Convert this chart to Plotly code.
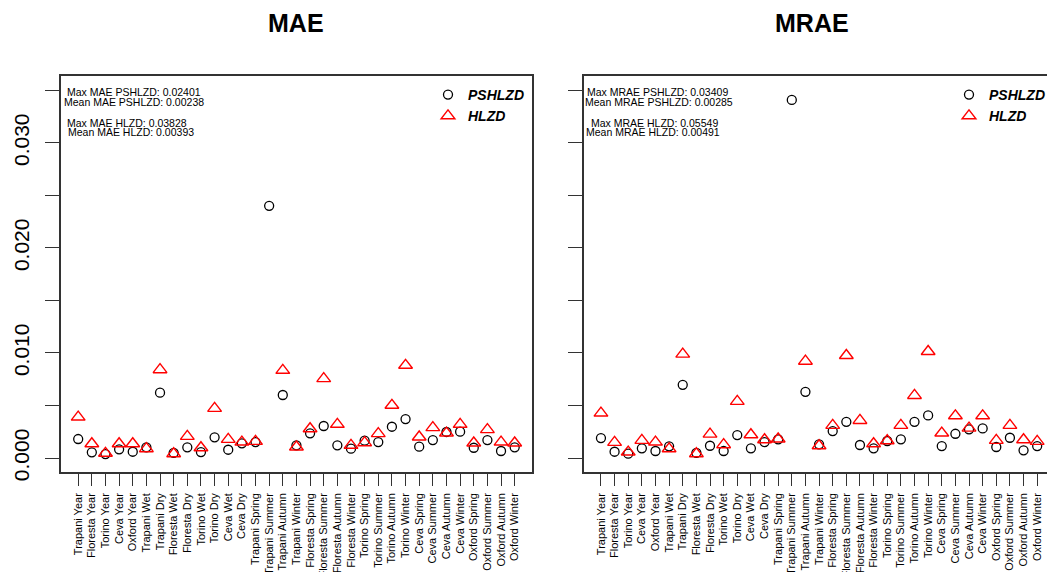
import plotly.graph_objects as go

categories = [
    "Trapani Year", "Floresta Year", "Torino Year", "Ceva Year", "Oxford Year",
    "Trapani Wet", "Trapani Dry", "Floresta Wet", "Floresta Dry", "Torino Wet",
    "Torino Dry", "Ceva Wet", "Ceva Dry", "Trapani Spring", "Trapani Summer",
    "Trapani Autumn", "Trapani Winter", "Floresta Spring", "Floresta Summer",
    "Floresta Autumn", "Floresta Winter", "Torino Spring", "Torino Summer",
    "Torino Autumn", "Torino Winter", "Ceva Spring", "Ceva Summer", "Ceva Autumn",
    "Ceva Winter", "Oxford Spring", "Oxford Summer", "Oxford Autumn", "Oxford Winter",
]

mae_pshlzd = [0.00181, 0.00054, 0.00038, 0.00083, 0.00060, 0.00102, 0.00622, 0.00050,
              0.00102, 0.00057, 0.00197, 0.00079, 0.00140, 0.00152, 0.02401, 0.00600,
              0.00121, 0.00235, 0.00305, 0.00121, 0.00089, 0.00165, 0.00152, 0.00298,
              0.00371, 0.00108, 0.00171, 0.00248, 0.00251, 0.00098, 0.00171, 0.00067,
              0.00102]
mae_hlzd = [0.00390, 0.00136, 0.00045, 0.00136, 0.00136, 0.00089, 0.00841, 0.00041,
            0.00206, 0.00098, 0.00473, 0.00178, 0.00152, 0.00159, 0.03828, 0.00835,
            0.00105, 0.00279, 0.00756, 0.00321, 0.00121, 0.00146, 0.00232, 0.00502,
            0.00883, 0.00200, 0.00289, 0.00238, 0.00321, 0.00143, 0.00270, 0.00152,
            0.00143]

mrae_pshlzd = [0.00190, 0.00060, 0.00041, 0.00092, 0.00067, 0.00111, 0.00697, 0.00050,
               0.00117, 0.00067, 0.00219, 0.00092, 0.00152, 0.00178, 0.03409, 0.00630,
               0.00130, 0.00257, 0.00345, 0.00124, 0.00092, 0.00162, 0.00178, 0.00345,
               0.00406, 0.00114, 0.00231, 0.00273, 0.00282, 0.00105, 0.00193, 0.00073,
               0.00114]
mrae_hlzd = [0.00428, 0.00149, 0.00057, 0.00168, 0.00152, 0.00088, 0.00989, 0.00041,
             0.00228, 0.00127, 0.00539, 0.00222, 0.00174, 0.00181, 0.05549, 0.00922,
             0.00117, 0.00311, 0.00976, 0.00358, 0.00136, 0.00165, 0.00311, 0.00596,
             0.01014, 0.00238, 0.00402, 0.00285, 0.00402, 0.00168, 0.00311, 0.00174,
             0.00159]

mae_stats = ["Max MAE PSHLZD: 0.02401", "Mean MAE PSHLZD: 0.00238",
             "Max MAE HLZD: 0.03828", "Mean MAE HLZD: 0.00393"]
mrae_stats = ["Max MRAE PSHLZD: 0.03409", "Mean MRAE PSHLZD: 0.00285",
              "Max MRAE HLZD: 0.05549", "Mean MRAE HLZD: 0.00491"]

W, H = 1047, 572
ML, MR, MT, MB = 61, 0, 76, 100
PW, PH = W - ML - MR, H - MT - MB


def px(xp):
    return (xp - ML) / PW


def py(yp):
    return (MT + PH - yp) / PH


xs = list(range(1, len(categories) + 1))
FONT = "Liberation Sans, Arial, sans-serif"
AX = "#333333"

fig = go.Figure()
circle = dict(symbol="circle-open", size=9, color="black", line=dict(width=1.3, color="black"))
tri = dict(symbol="triangle-up-open", size=12, color="#ff0000", line=dict(width=1.4, color="#ff0000"))

fig.add_trace(go.Scatter(x=xs, y=mae_pshlzd, mode="markers", marker=circle, name="PSHLZD",
                         xaxis="x", yaxis="y", legend="legend"))
fig.add_trace(go.Scatter(x=xs, y=mae_hlzd, mode="markers", marker=tri, name="HLZD",
                         xaxis="x", yaxis="y", legend="legend"))
fig.add_trace(go.Scatter(x=xs, y=mrae_pshlzd, mode="markers", marker=circle, name="PSHLZD",
                         xaxis="x2", yaxis="y2", legend="legend2"))
fig.add_trace(go.Scatter(x=xs, y=mrae_hlzd, mode="markers", marker=tri, name="HLZD",
                         xaxis="x2", yaxis="y2", legend="legend2"))

yrange = [-0.00133, 0.03637]
xaxis_common = dict(
    tickmode="array", tickvals=xs, ticktext=categories, tickangle=-90,
    tickfont=dict(family=FONT, size=11, color="black"),
    ticks="outside", ticklen=12, tickwidth=1.3, tickcolor=AX,
    showgrid=False, zeroline=False, showline=True, linecolor=AX, linewidth=1.6,
    mirror=True, ticklabelstandoff=3,
)
yaxis_common = dict(
    range=yrange, dtick=0.01, tick0=0, ticks="outside", ticklen=14, tickwidth=1.3,
    tickcolor=AX, showgrid=False, zeroline=False, showline=True, linecolor=AX,
    linewidth=1.6,
    minor=dict(dtick=0.005, tick0=0, ticks="outside", ticklen=14, tickwidth=1.3,
               tickcolor=AX, showgrid=False),
)

fig.update_layout(
    width=W, height=H,
    margin=dict(l=ML, r=MR, t=MT, b=MB, autoexpand=False),
    paper_bgcolor="white", plot_bgcolor="white",
    font=dict(family=FONT, color="black"),
    xaxis=dict(domain=[0, px(532)], range=[-0.26, 34.27], **xaxis_common),
    xaxis2=dict(domain=[px(583.5), 1.0], range=[-0.28, 33.72], anchor="y2",
                **xaxis_common),
    yaxis=dict(tickformat=".3f", tickangle=-90, mirror=True, ticklabelstandoff=8,
               tickfont=dict(family=FONT, size=21, color="black"), **yaxis_common),
    yaxis2=dict(anchor="x2", showticklabels=False, mirror=False, **yaxis_common),
    legend=dict(x=px(428), y=py(79), xanchor="left", yanchor="top",
                bgcolor="rgba(0,0,0,0)", tracegroupgap=0, itemwidth=30,
                font=dict(family=FONT, size=14, color="black", weight="bold", style="italic")),
    legend2=dict(x=px(949), y=py(79), xanchor="left", yanchor="top",
                 bgcolor="rgba(0,0,0,0)", tracegroupgap=0, itemwidth=30,
                 font=dict(family=FONT, size=14, color="black", weight="bold", style="italic")),
    showlegend=True,
)

ann = []
ann.append(dict(text="<b>MAE</b>", x=px(296), y=py(23), xref="paper", yref="paper",
                showarrow=False, font=dict(family=FONT, size=25, color="black"),
                xanchor="center", yanchor="middle"))
ann.append(dict(text="<b>MRAE</b>", x=px(812), y=py(23), xref="paper", yref="paper",
                showarrow=False, font=dict(family=FONT, size=25, color="black"),
                xanchor="center", yanchor="middle"))

stat_y = [91.5, 101.7, 122.5, 132.5]
mae_cx = [134, 134, 127, 131]
mrae_cx = [657.5, 658.5, 654.7, 653.3]
for txt, cx, yy in zip(mae_stats, mae_cx, stat_y):
    ann.append(dict(text=txt, x=px(cx), y=py(yy), xref="paper", yref="paper",
                    showarrow=False, font=dict(family=FONT, size=10.5, color="black"),
                    xanchor="center", yanchor="middle"))
for txt, cx, yy in zip(mrae_stats, mrae_cx, stat_y):
    ann.append(dict(text=txt, x=px(cx), y=py(yy), xref="paper", yref="paper",
                    showarrow=False, font=dict(family=FONT, size=10.5, color="black"),
                    xanchor="center", yanchor="middle"))
fig.update_layout(annotations=ann)

fig.write_html("out.html", config={"displayModeBar": False},
               post_script="document.body.style.margin='0';document.body.style.overflow='hidden';")
